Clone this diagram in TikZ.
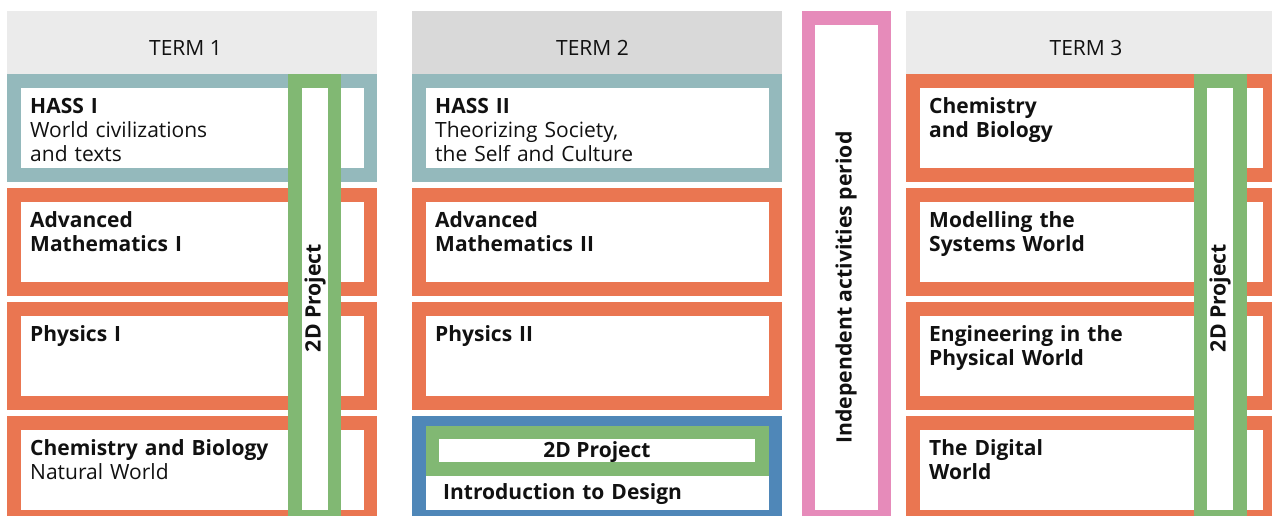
\documentclass[tikz,border=0pt]{standalone}
\usepackage{fontspec}
\setmainfont{Open Sans}
\definecolor{cOrange}{HTML}{EA7651}
\definecolor{cTeal}{HTML}{94B9BC}
\definecolor{cGreen}{HTML}{81B873}
\definecolor{cPink}{HTML}{E68BBA}
\definecolor{cBlue}{HTML}{4F87B8}
\definecolor{cHeadA}{HTML}{EBEBEB}
\definecolor{cHeadB}{HTML}{D9D9D9}
\definecolor{cText}{HTML}{111111}
\tikzset{
  rect/.style={anchor=north west, inner sep=0pt, outer sep=0pt, draw=none},
  celltext/.style={anchor=base west, inner sep=0pt, text width=330pt, align=left,
    font=\fontsize{21}{24}\selectfont, text=cText},
  headtext/.style={anchor=base, inner sep=0pt, font=\fontsize{21}{24}\selectfont, text=cText},
  vtext/.style={rotate=90, inner sep=0pt, font=\bfseries\fontsize{21.2}{24}\selectfont, text=cText},
}
\newcommand{\cellbox}[5]{% name, x, y, colour, text
  \node[rect, fill=#4, minimum width=370pt, minimum height=108pt] (#1) at (#2,#3) {};
  \node[rect, fill=white, minimum width=343pt, minimum height=80pt] (#1in) at (#2+13.5,#3+14) {};
  \node[celltext] (#1txt) at (#2+23,#3+39) {#5};
}
\begin{document}
\begin{tikzpicture}[x=1pt,y=-1pt]
\useasboundingbox (0,0) rectangle (1272,515);
\clip (0,0) rectangle (1272,515);
% headers
\node[rect, fill=cHeadA, minimum width=370pt, minimum height=63pt] (h1) at (7,11) {};
\node[rect, fill=cHeadB, minimum width=370pt, minimum height=63pt] (h2) at (412,11) {};
\node[rect, fill=cHeadA, minimum width=370pt, minimum height=63pt] (h3) at (906,11) {};
\node[headtext] (h1t) at (185.5,55) {TERM 1};
\node[headtext] (h2t) at (592.5,55) {TERM 2};
\node[headtext] (h3t) at (1086,55) {TERM 3};
% term 1
\cellbox{a1}{7}{74}{cTeal}{\textbf{HASS I}\\World civilizations\\and texts}
\cellbox{a2}{7}{188}{cOrange}{\textbf{Advanced\\Mathematics I}}
\cellbox{a3}{7}{302}{cOrange}{\textbf{Physics I}}
\cellbox{a4}{7}{416}{cOrange}{\textbf{Chemistry and Biology}\\Natural World}
% term 2
\cellbox{b1}{412}{74}{cTeal}{\textbf{HASS II}\\Theorizing Society,\\the Self and Culture}
\cellbox{b2}{412}{188}{cOrange}{\textbf{Advanced\\Mathematics II}}
\cellbox{b3}{412}{302}{cOrange}{\textbf{Physics II}}
\node[rect, fill=cBlue, minimum width=370pt, minimum height=108pt] (b4) at (412,416) {};
\node[rect, fill=white, minimum width=343pt, minimum height=84pt] (b4in) at (426,426) {};
\node[rect, fill=cGreen, minimum width=343pt, minimum height=50pt] (b4g) at (426,426) {};
\node[rect, fill=white, minimum width=316pt, minimum height=23pt] (b4gin) at (439,439) {};
\node[headtext, font=\bfseries\fontsize{21}{24}\selectfont] (b4gt) at (597,457.5) {2D Project};
\node[celltext, font=\bfseries\fontsize{21}{24}\selectfont] (b4t) at (443,499) {Introduction to Design};
% independent period
\node[rect, fill=cPink, minimum width=89pt, minimum height=520pt] (ip) at (802,11) {};
\node[rect, fill=white, minimum width=63pt, minimum height=485pt] (ipin) at (815,25) {};
\node[vtext] (ipt) at (846,287.5) {Independent activities period};
% term 3
\cellbox{c1}{906}{74}{cOrange}{\textbf{Chemistry\\and Biology}}
\cellbox{c2}{906}{188}{cOrange}{\textbf{Modelling the\\Systems World}}
\cellbox{c3}{906}{302}{cOrange}{\textbf{Engineering in the\\Physical World}}
\cellbox{c4}{906}{416}{cOrange}{\textbf{The Digital\\World}}
% 2D project bars
\node[rect, fill=cGreen, minimum width=53pt, minimum height=450pt] (g1) at (288,74) {};
\node[rect, fill=white, minimum width=26pt, minimum height=422pt] (g1in) at (302,88) {};
\node[vtext] (g1t) at (315,298) {2D Project};
\node[rect, fill=cGreen, minimum width=53pt, minimum height=450pt] (g3) at (1194,74) {};
\node[rect, fill=white, minimum width=26pt, minimum height=422pt] (g3in) at (1207,88) {};
\node[vtext] (g3t) at (1220,298) {2D Project};
\end{tikzpicture}
\end{document}
